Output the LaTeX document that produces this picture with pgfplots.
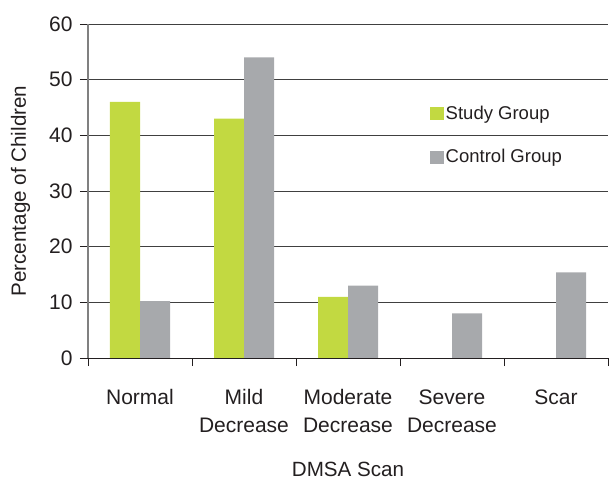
\documentclass[border=0pt]{standalone}
\usepackage{fontspec}
\setmainfont{Liberation Sans}
\usepackage{pgfplots}
\pgfplotsset{compat=1.18}
\definecolor{studyc}{HTML}{C2D941}
\definecolor{ctrlc}{HTML}{A7A9AC}
\definecolor{txt}{HTML}{231F20}
\begin{document}
\begin{tikzpicture}
\useasboundingbox (-88pt,-123pt) rectangle (521pt,358pt);
\begin{axis}[
  scale only axis, width=520pt, height=334pt,
  at={(0,0)}, anchor=south west,
  ybar=0pt, bar width=30pt,
  xmin=-0.5, xmax=4.5, ymin=0, ymax=60,
  ytick={0,10,...,60},
  xtick={0,1,2,3,4},
  xticklabels={Normal,{Mild\\Decrease},{Moderate\\Decrease},{Severe\\Decrease},Scar},
  minor xtick={-0.5,0.5,1.5,2.5,3.5,4.5},
  major x tick style={draw=none},
  minor x tick style={draw=txt, line width=0.8pt},
  y tick style={draw=txt, line width=0.8pt},
  minor tick length=8pt, major tick length=8pt,
  tick align=outside,
  axis line style={draw=none},
  axis x line*=bottom, axis y line*=left,
  ymajorgrids, grid style={draw=black!75, line width=0.8pt},
  /pgf/number format/assume math mode=true,
  tick label style={font=\fontsize{21}{28}\selectfont, text=txt},
  xticklabel style={align=center, yshift=-20pt},
  yticklabel style={xshift=-4pt},
  xlabel={DMSA Scan}, ylabel={Percentage of Children},
  label style={font=\fontsize{20.6}{24}\selectfont, text=txt},
  xlabel style={yshift=-22pt},
  ylabel style={yshift=12pt},
  legend style={at={(0.652,0.768)}, anchor=north west, draw=none, fill=none,
    font=\fontsize{18.5}{22}\selectfont, text=txt, row sep=25pt,
    /tikz/every even column/.append style={column sep=6pt}},
  legend cell align=left,
  area legend,
  clip=false,
]
\addplot[fill=studyc, draw=none, legend image code/.code={\fill[studyc] (0pt,-6.5pt) rectangle (13.5pt,6.5pt);}] coordinates {(0,46) (1,43) (2,11) (3,0) (4,0)};
\addplot[fill=ctrlc, draw=none, legend image code/.code={\fill[ctrlc] (0pt,-6.5pt) rectangle (13.5pt,6.5pt);}] coordinates {(0,10.2) (1,54) (2,13) (3,8) (4,15.4)};
\legend{Study Group, Control Group}
\draw[draw=black!50, line width=1.4pt] (axis cs:-0.5,0) -- (axis cs:-0.5,60);
\draw[draw=txt, line width=1pt] (axis cs:-0.5,0) -- (axis cs:4.5,0);
\end{axis}
\end{tikzpicture}
\end{document}
